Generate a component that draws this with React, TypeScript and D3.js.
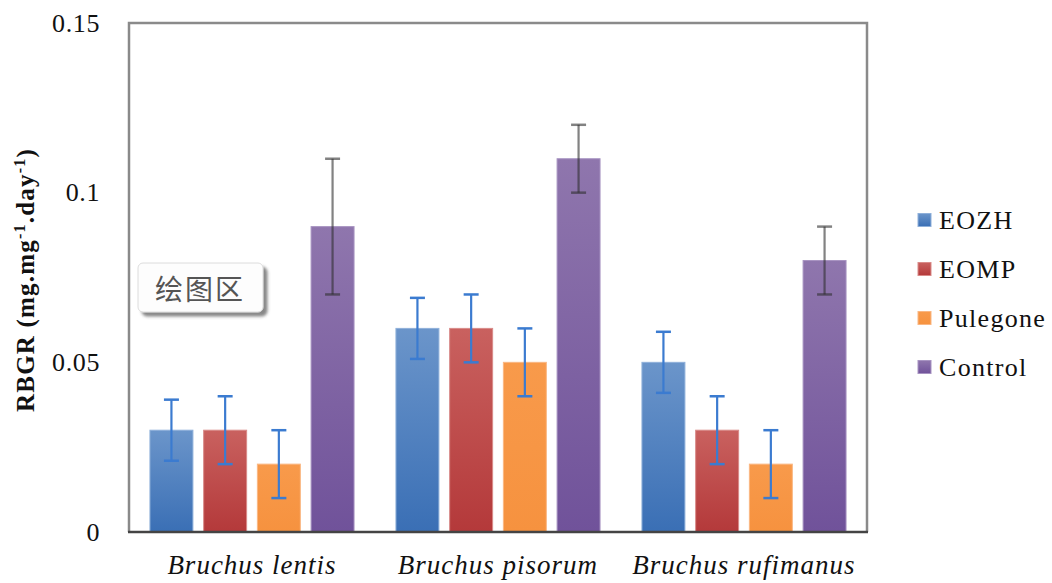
import React from "react";
import * as d3 from "d3";

const categories = ["Bruchus lentis", "Bruchus pisorum", "Bruchus rufimanus"];
const seriesNames = ["EOZH", "EOMP", "Pulegone", "Control"];
const values: number[][] = [
  [0.03, 0.03, 0.02, 0.09],
  [0.06, 0.06, 0.05, 0.11],
  [0.05, 0.03, 0.02, 0.08],
];
const errors: number[][] = [
  [0.009, 0.01, 0.01, 0.02],
  [0.009, 0.01, 0.01, 0.01],
  [0.009, 0.01, 0.01, 0.01],
];
const yTicks = [0, 0.05, 0.1, 0.15];
const yTickLabels = ["0", "0.05", "0.1", "0.15"];

const gradTop = ["#6b95ca", "#c9615f", "#f89a4b", "#8f76ad"];
const gradBottom = ["#3a6fb5", "#b4393a", "#f6923f", "#70529a"];
const edge = ["#8fb0da", "#d98b89", "#fab783", "#a894c2"];
const errColor = ["#3b7bd0", "#3b7bd0", "#3b7bd0", "#2e2e2e"];
const errOpacity = [1, 1, 1, 0.6];

const W = 1052;
const H = 583;
const left = 129;
const right = 867;
const top = 23;
const bottom = 532;
const serif = "Times New Roman, Liberation Serif, Tinos, DejaVu Serif, serif";

export default function App() {
  const y = d3.scaleLinear().domain([0, 0.15]).range([bottom, top]);
  const x0 = d3.scaleBand<string>().domain(categories).range([left, right]).padding(0);
  const x1 = d3
    .scaleBand<string>()
    .domain(seriesNames)
    .range([0, x0.bandwidth()])
    .paddingInner(0.2)
    .paddingOuter(0.39);
  const bw = x1.bandwidth();

  return (
    <svg
      width={W}
      height={H}
      fontFamily={serif}
      style={{ position: "absolute", left: 0, top: 0, background: "#fff", fontFamily: serif }}
    >
      <defs>
        {seriesNames.map((s, i) => (
          <linearGradient key={s} id={`g${i}`} x1="0" y1="0" x2="0" y2="1">
            <stop offset="0" stopColor={gradTop[i]} />
            <stop offset="1" stopColor={gradBottom[i]} />
          </linearGradient>
        ))}
        <filter id="shadow" x="-10%" y="-10%" width="130%" height="140%">
          <feDropShadow dx="4" dy="4" stdDeviation="1.5" floodColor="#555" floodOpacity="0.7" />
        </filter>
      </defs>
      <rect x={0} y={0} width={W} height={H} fill="#fff" />

      {/* frame */}
      <path
        d={`M${left},${bottom} L${left},${top} L${right},${top} L${right},${bottom}`}
        fill="none"
        stroke="#8a8a8a"
        strokeWidth={2.5}
      />

      {/* bars */}
      {categories.map((c, ci) => (
        <g key={c} transform={`translate(${x0(c)},0)`}>
          {seriesNames.map((s, si) => {
            const v = values[ci][si];
            const bx = x1(s)!;
            return (
              <rect
                key={s}
                x={bx}
                y={y(v)}
                width={bw}
                height={y(0) - y(v)}
                fill={`url(#g${si})`}
                stroke={edge[si]}
                strokeWidth={1}
              />
            );
          })}
          {seriesNames.map((s, si) => {
            const v = values[ci][si];
            const e = errors[ci][si];
            const cx = x1(s)! + bw / 2;
            return (
              <g key={s} stroke={errColor[si]} strokeOpacity={errOpacity[si]} strokeWidth={2.2}>
                <line x1={cx} x2={cx} y1={y(v + e)} y2={y(v - e)} />
                <line x1={cx - 7.5} x2={cx + 7.5} y1={y(v + e)} y2={y(v + e)} strokeWidth={2.5} />
                <line x1={cx - 7.5} x2={cx + 7.5} y1={y(v - e)} y2={y(v - e)} strokeWidth={2.5} />
              </g>
            );
          })}
        </g>
      ))}

      {/* bottom axis */}
      <line x1={left - 1} x2={right + 1} y1={bottom} y2={bottom} stroke="#444" strokeWidth={2.5} />

      {/* y tick labels */}
      {yTicks.map((t, i) => (
        <text
          key={t}
          x={100}
          y={y(t)}
          textAnchor="end"
          dominantBaseline="central"
          fontSize={26}
          letterSpacing={0.6}
          fill="#111"
        >
          {yTickLabels[i]}
        </text>
      ))}

      {/* category labels */}
      {categories.map((c) => (
        <text
          key={c}
          x={x0(c)! + x0.bandwidth() / 2}
          y={574}
          textAnchor="middle"
          fontSize={27}
          fontStyle="italic"
          letterSpacing={1}
          fill="#111"
        >
          {c}
        </text>
      ))}

      {/* y axis title */}
      <text
        transform={`translate(34,280) rotate(-90)`}
        textAnchor="middle"
        fontSize={25}
        fontWeight="bold"
        letterSpacing={1.2}
        fill="#111"
      >
        RBGR (mg.mg
        <tspan fontSize={16} dy={-9}>-1</tspan>
        <tspan dy={9}>.day</tspan>
        <tspan fontSize={16} dy={-9}>-1</tspan>
        <tspan dy={9}>)</tspan>
      </text>

      {/* legend */}
      {seriesNames.map((s, i) => (
        <g key={s} transform={`translate(918,${220 + i * 49})`}>
          <rect x={0} y={-6.5} width={13} height={13} fill={`url(#g${i})`} stroke={edge[i]} strokeWidth={1} />
          <text x={21} y={0} dominantBaseline="central" fontSize={26} letterSpacing={1.3} fill="#111">
            {s}
          </text>
        </g>
      ))}

      {/* chart-area tooltip */}
      <g filter="url(#shadow)">
        <rect x={138} y={263} width={125} height={49} rx={5} fill="#fdfdfd" stroke="#dcdcdc" strokeWidth={1} />
      </g>
      <text
        x={200}
        y={288}
        textAnchor="middle"
        dominantBaseline="central"
        fontSize={28}
        letterSpacing={2}
        fill="#555"
        fontFamily="Noto Sans CJK SC, sans-serif"
        style={{ fontFamily: "Noto Sans CJK SC, sans-serif" }}
      >
        绘图区
      </text>
    </svg>
  );
}
